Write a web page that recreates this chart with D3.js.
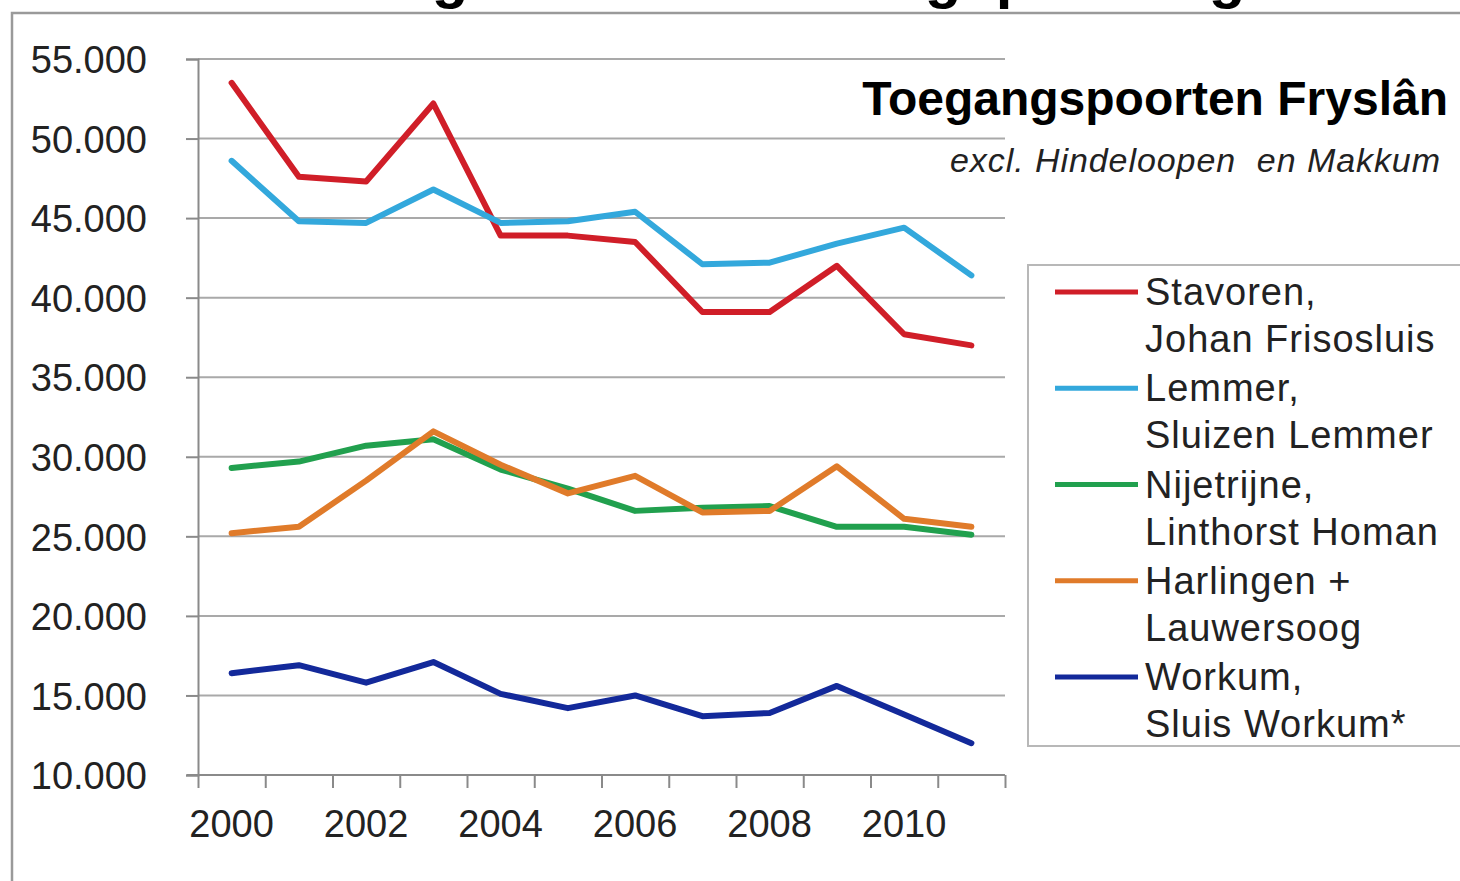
<!DOCTYPE html>
<html>
<head>
<meta charset="utf-8">
<script src="https://cdn.jsdelivr.net/npm/d3@7"></script>
<style>
  html, body { margin: 0; padding: 0; background: #fff; }
  svg { display: block; font-family: "Liberation Sans", Arial, sans-serif; }
</style>
</head>
<body>
<svg id="chart" width="1460" height="881"></svg>
<script>
// ---- data ----
const years = [2000, 2001, 2002, 2003, 2004, 2005, 2006, 2007, 2008, 2009, 2010, 2011];
const xTickLabels = [2000, 2002, 2004, 2006, 2008, 2010];
const yTicks = [10000, 15000, 20000, 25000, 30000, 35000, 40000, 45000, 50000, 55000];

const stavoren   = [53500, 47600, 47300, 52200, 43900, 43900, 43500, 39100, 39100, 42000, 37700, 37000];
const lemmer     = [48600, 44800, 44700, 46800, 44700, 44800, 45400, 42100, 42200, 43400, 44400, 41400];
const nijetrijne = [29300, 29700, 30700, 31100, 29200, 28000, 26600, 26800, 26900, 25600, 25600, 25100];
const harlingen  = [25200, 25600, 28500, 31600, 29500, 27700, 28800, 26500, 26600, 29400, 26100, 25600];
const workum     = [16400, 16900, 15800, 17100, 15100, 14200, 15000, 13700, 13900, 15600, 13800, 12000];

const seriesNames = [
  ["Stavoren,", "Johan Frisosluis"],
  ["Lemmer,", "Sluizen Lemmer"],
  ["Nijetrijne,", "Linthorst Homan"],
  ["Harlingen +", "Lauwersoog"],
  ["Workum,", "Sluis Workum*"]
];
const seriesValues = [stavoren, lemmer, nijetrijne, harlingen, workum];
const seriesColors = ["#d01e28", "#33a8dc", "#21a04e", "#e07b2a", "#13299a"];

const title = "Toegangspoorten Fryslân";
const subtitle = "excl. Hindeloopen  en Makkum";

// ---- drawing ----
const svg = d3.select("#chart");
const nl = d3.formatLocale({decimal: ",", thousands: ".", grouping: [3], currency: ["€", ""]});
const fmt = nl.format(",");

// outer frame
svg.append("path")
  .attr("d", "M12,881V13H1460")
  .attr("fill", "none").attr("stroke", "#9a9a9a").attr("stroke-width", 2.5);

// cut-off slide title descenders above frame (as in the reference)
[["g", 450], ["g", 943], ["p", 1014], ["g", 1227]].forEach(([ch, cx]) => {
  svg.append("text").attr("x", cx).attr("y", -3)
    .attr("text-anchor", "middle").attr("font-size", 60).attr("font-weight", "bold")
    .attr("fill", "#000").text(ch);
});

const x = d3.scaleBand().domain(years).range([198, 1005]).padding(0);
const xLin = d3.scaleLinear().domain([0, years.length]).range([198, 1005]);
const y = d3.scaleLinear().domain([10000, 55000]).range([775, 59]);
const cx = d => x(d) + x.bandwidth() / 2;

// gridlines
svg.append("g").selectAll("line")
  .data(yTicks.slice(1))
  .join("line")
  .attr("x1", 198).attr("x2", 1005)
  .attr("y1", d => y(d)).attr("y2", d => y(d))
  .attr("stroke", "#a9a9a9").attr("stroke-width", 2);

// y axis
const yAxis = svg.append("g")
  .attr("transform", "translate(198,0)")
  .call(d3.axisLeft(y).tickValues(yTicks).tickFormat(fmt).tickSize(12).tickPadding(39));
yAxis.select(".domain").attr("stroke", "#8a8a8a").attr("stroke-width", 2);
yAxis.selectAll(".tick line").attr("stroke", "#8a8a8a").attr("stroke-width", 2);
yAxis.selectAll(".tick text")
  .attr("font-size", 38).attr("font-family", "Liberation Sans, Arial, sans-serif")
  .attr("fill", "#222").attr("dy", "0.36em");

// x axis (ticks at category boundaries)
const xAxis = svg.append("g")
  .attr("transform", "translate(0,775)")
  .call(d3.axisBottom(xLin).tickValues(d3.range(0, years.length + 1)).tickFormat("").tickSize(13).tickSizeOuter(0));
xAxis.select(".domain").attr("stroke", "#8a8a8a").attr("stroke-width", 2)
  .attr("d", "M187,0H1005");
xAxis.selectAll(".tick line").attr("stroke", "#8a8a8a").attr("stroke-width", 2);

svg.append("g").selectAll("text")
  .data(xTickLabels)
  .join("text")
  .attr("x", d => cx(d)).attr("y", 837)
  .attr("text-anchor", "middle").attr("font-size", 38).attr("fill", "#222")
  .text(d => d);

// lines
const line = d3.line().x((d, i) => cx(years[i])).y(d => y(d));
svg.append("g").selectAll("path")
  .data(seriesValues)
  .join("path")
  .attr("d", d => line(d))
  .attr("fill", "none")
  .attr("stroke", (d, i) => seriesColors[i])
  .attr("stroke-width", 6)
  .attr("stroke-linejoin", "round")
  .attr("stroke-linecap", "round");

// title + subtitle
svg.append("text").attr("x", 1448).attr("y", 115)
  .attr("text-anchor", "end").attr("font-size", 48).attr("font-weight", "bold")
  .attr("fill", "#000").text(title);
svg.append("text").attr("x", 950).attr("y", 172)
  .attr("font-size", 34).attr("font-style", "italic")
  .style("white-space", "pre")
  .attr("textLength", 490).attr("lengthAdjust", "spacing")
  .attr("fill", "#222").text(subtitle);

// legend
const lg = svg.append("g");
lg.append("rect").attr("x", 1028).attr("y", 265).attr("width", 440).attr("height", 481)
  .attr("fill", "#fff").attr("stroke", "#b8b8b8").attr("stroke-width", 2);
const rowY = d3.scalePoint().domain(d3.range(seriesNames.length)).range([292, 677]);
seriesNames.forEach((names, i) => {
  const ly = rowY(i);
  lg.append("line").attr("x1", 1055).attr("x2", 1138).attr("y1", ly).attr("y2", ly)
    .attr("stroke", seriesColors[i]).attr("stroke-width", 5);
  names.forEach((t, j) => {
    lg.append("text").attr("x", 1145).attr("y", ly + 13 + j * 47)
      .attr("font-size", 38).attr("letter-spacing", 1).attr("fill", "#222").text(t);
  });
});
</script>
</body>
</html>
